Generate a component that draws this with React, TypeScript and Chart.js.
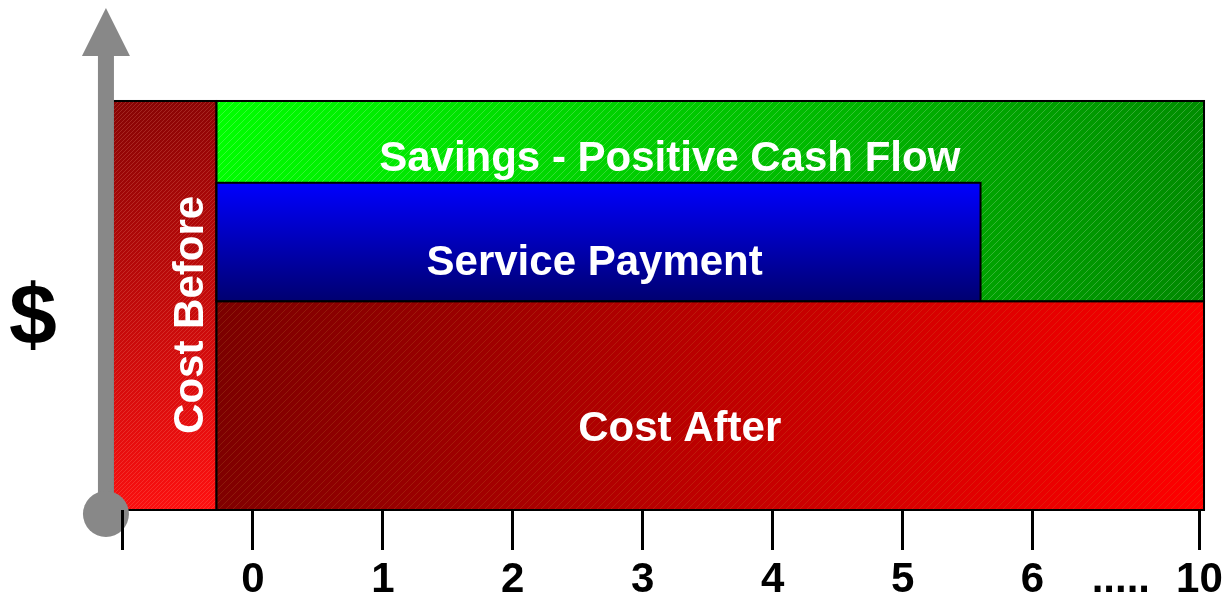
import React, { useEffect, useRef } from "react";
import { Chart, registerables } from "chart.js";

Chart.register(...registerables);

// ---- data ----
const regionNames = ["Cost Before", "Cost After", "Service Payment", "Savings - Positive Cash Flow"];
const regionXStart = [-1.08, -0.28, -0.28, -0.28];
const regionXEnd = [-0.28, 7.32, 5.6, 7.32];
const regionYLow = [0, 0, 51, 51];
const regionYHigh = [100, 51, 80, 100];

const tickPositions = [-1, 0, 1, 2, 3, 4, 5, 6, 7.285];
const tickLabels = ["", "0", "1", "2", "3", "4", "5", "6", "10"];
const yAxisLabel = "$";
const gapLabel = ".....";

// ---- layout (not data) ----
const labelAnchorX = [-0.473, 3.285, 2.63, 3.208];
const labelAnchorY = [47.7, 19.8, 60.4, 85.6];
const labelRotation = [-Math.PI / 2, 0, 0, 0];
const drawOrder = [0, 3, 2, 1];
const FONT = "'Liberation Sans', Arial, Helvetica, sans-serif";

function makeHatch(size: number, color: string) {
  const c = document.createElement("canvas");
  c.width = size;
  c.height = size;
  const g = c.getContext("2d")!;
  g.strokeStyle = color;
  g.lineWidth = 1;
  g.beginPath();
  g.moveTo(0, size);
  g.lineTo(size, 0);
  g.moveTo(-1, 1);
  g.lineTo(1, -1);
  g.moveTo(size - 1, size + 1);
  g.lineTo(size + 1, size - 1);
  g.stroke();
  return c;
}

const diagramPlugin = {
  id: "diagram",
  beforeDraw(chart: any) {
    const ctx: CanvasRenderingContext2D = chart.ctx;
    const xs = chart.scales.x;
    const ys = chart.scales.y;
    ctx.save();

    const fills: Record<number, (x0: number, x1: number, yt: number, yb: number) => any> = {
      0: (x0, x1, yt, yb) => {
        const g = ctx.createLinearGradient(x0, yt, x1, yb);
        g.addColorStop(0, "#860404");
        g.addColorStop(1, "#ff1010");
        return g;
      },
      1: (x0, x1, yt, yb) => {
        const g = ctx.createLinearGradient(x0, yt, x1, yb);
        g.addColorStop(0, "#7a0000");
        g.addColorStop(1, "#ff0000");
        return g;
      },
      2: (x0, x1, yt, yb) => {
        const g = ctx.createLinearGradient(x0, yt, x0, yb);
        g.addColorStop(0, "#0000ff");
        g.addColorStop(1, "#000070");
        return g;
      },
      3: (x0, x1, yt, yb) => {
        const g = ctx.createLinearGradient(x0, yt, x1, yb);
        g.addColorStop(0, "#00ff00");
        g.addColorStop(1, "#008800");
        return g;
      },
    };
    const hatches: Record<number, any> = {
      0: ctx.createPattern(makeHatch(4, "rgba(255,170,150,0.2)"), "repeat"),
      1: ctx.createPattern(makeHatch(7, "rgba(200,150,60,0.18)"), "repeat"),
      3: ctx.createPattern(makeHatch(7, "rgba(255,255,255,0.2)"), "repeat"),
    };

    for (const i of drawOrder) {
      const x0 = xs.getPixelForValue(regionXStart[i]);
      const x1 = xs.getPixelForValue(regionXEnd[i]);
      const yt = ys.getPixelForValue(regionYHigh[i]);
      const yb = ys.getPixelForValue(regionYLow[i]);
      ctx.fillStyle = fills[i](x0, x1, yt, yb);
      ctx.fillRect(x0, yt, x1 - x0, yb - yt);
      if (hatches[i]) {
        ctx.fillStyle = hatches[i];
        ctx.fillRect(x0, yt, x1 - x0, yb - yt);
      }
      ctx.strokeStyle = "#000";
      ctx.lineWidth = 2;
      ctx.strokeRect(x0, yt, x1 - x0, yb - yt);
    }

    // vertical arrow (y axis decoration)
    const ax = xs.getPixelForValue(-1.131);
    const yBottom = ys.getPixelForValue(0) + 4;
    const yTopArrow = 8;
    ctx.fillStyle = "#888888";
    ctx.fillRect(ax - 8, 54, 16, yBottom - 54);
    ctx.beginPath();
    ctx.moveTo(ax - 24, 56);
    ctx.lineTo(ax + 24, 56);
    ctx.lineTo(ax, yTopArrow);
    ctx.closePath();
    ctx.fill();
    ctx.beginPath();
    ctx.arc(ax, yBottom, 23, 0, Math.PI * 2);
    ctx.fill();

    // region labels
    ctx.fillStyle = "#fff";
    ctx.font = `bold 42px ${FONT}`;
    ctx.textAlign = "center";
    ctx.textBaseline = "middle";
    for (let i = 0; i < regionNames.length; i++) {
      const px = xs.getPixelForValue(labelAnchorX[i]);
      const py = ys.getPixelForValue(labelAnchorY[i]);
      ctx.save();
      ctx.translate(px, py);
      ctx.rotate(labelRotation[i]);
      ctx.fillText(regionNames[i], 0, 0);
      ctx.restore();
    }

    // $ label
    ctx.fillStyle = "#000";
    ctx.font = `bold 86px ${FONT}`;
    ctx.fillText(yAxisLabel, 33, ys.getPixelForValue(46.5));

    // gap dots between 6 and 10
    ctx.font = `bold 42px ${FONT}`;
    ctx.fillText(gapLabel, xs.getPixelForValue(6.68), 580);
    ctx.restore();
  },
};

export default function App() {
  const ref = useRef<HTMLCanvasElement | null>(null);
  useEffect(() => {
    if (!ref.current) return;
    const chart = new Chart(ref.current, {
      type: "scatter",
      data: { datasets: [] },
      options: {
        animation: false,
        responsive: false,
        devicePixelRatio: 1,
        layout: { padding: { left: 58, right: 13, top: 11, bottom: 0 } },
        plugins: { legend: { display: false }, tooltip: { enabled: false } },
        scales: {
          x: {
            type: "linear",
            min: -1.5,
            max: 7.4,
            afterBuildTicks: (s: any) => {
              s.ticks = tickPositions.map((v) => ({ value: v }));
            },
            afterFit: (s: any) => {
              s.height = 84;
            },
            border: { display: false },
            grid: {
              drawOnChartArea: false,
              drawTicks: true,
              tickLength: 40,
              tickColor: "#000",
              tickWidth: 3,
            },
            ticks: {
              autoSkip: false,
              maxRotation: 0,
              padding: 5,
              color: "#000",
              font: { family: FONT, size: 42, weight: "bold" },
              callback: (_v: any, i: number) => tickLabels[i],
            },
          },
          y: { type: "linear", min: 0, max: 122, display: false },
        },
      },
      plugins: [diagramPlugin],
    } as any);
    return () => chart.destroy();
  }, []);
  return (
    <div style={{ position: "fixed", left: 0, top: 0, width: 1228, height: 594, background: "#fff" }}>
      <canvas ref={ref} width={1228} height={594} />
    </div>
  );
}
